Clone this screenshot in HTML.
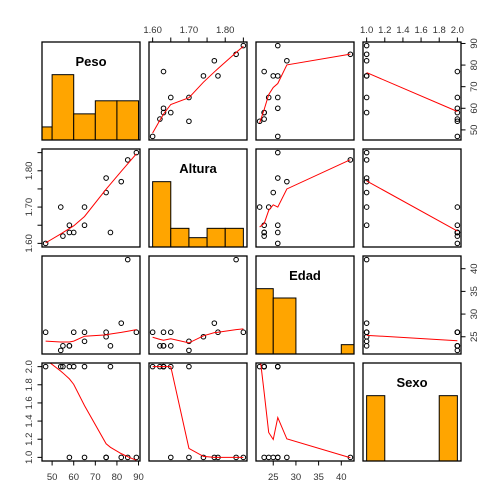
<!DOCTYPE html>
<html><head><meta charset="utf-8"><style>
html,body{margin:0;padding:0;background:#fff;}
svg{display:block;font-family:"Liberation Sans",sans-serif;}
</style></head><body>
<svg id="chart" width="504" height="504" viewBox="0 0 504 504"></svg>
<script>
const varNames = ["Peso","Altura","Edad","Sexo"];
const peso   = [47,54,55,58,58,60,65,65,75,75,77,82,85,89];
const altura = [1.60,1.70,1.62,1.65,1.63,1.63,1.70,1.65,1.78,1.74,1.63,1.77,1.83,1.85];
const edad   = [26,22,23,23,23,26,24,26,26,25,23,28,42,26];
const sexo   = [2,2,2,1,2,2,1,2,1,1,2,1,1,1];
const histBreaks = [[40,50,60,70,80,90],[1.60,1.65,1.70,1.75,1.80,1.85],[20,25,30,35,40,45],[1.0,1.2,1.4,1.6,1.8,2.0]];
const tickVals = [[50,60,70,80,90],[1.60,1.65,1.70,1.75,1.80,1.85],[25,30,35,40],[1.0,1.2,1.4,1.6,1.8,2.0]];
const tickLabels = [["50","60","70","80","90"],["1.60","","1.70","","1.80",""],["25","30","35","40"],["1.0","1.2","1.4","1.6","1.8","2.0"]];

const data=[peso,altura,edad,sexo];
const NS="http://www.w3.org/2000/svg";
const svg=document.getElementById('chart');
const P0=[42,149,256,363], PW=98;
function mk(t,a,p){const e=document.createElementNS(NS,t);for(const k in a)e.setAttribute(k,a[k]);(p||svg).appendChild(e);return e;}
function rng(v){const mn=Math.min(...v),mx=Math.max(...v),r=mx-mn;return [mn-0.04*r,mx+0.04*r];}
const ranges=data.map(rng);
function sx(j,v){const r=ranges[j];return P0[j]+(v-r[0])/(r[1]-r[0])*PW;}
function sy(i,v){const r=ranges[i];return P0[i]+PW-(v-r[0])/(r[1]-r[0])*PW;}

function lowess(xin,yin,f,iter){
  const idx=xin.map((_,i)=>i).sort((a,b)=>xin[a]-xin[b]);
  const x=idx.map(i=>xin[i]),y=idx.map(i=>yin[i]),n=x.length;
  const delta=0.01*(x[n-1]-x[0]);
  let ns=Math.max(Math.min(Math.round(f*n),n),2);
  const ys=new Array(n).fill(0),rw=new Array(n).fill(1),res=new Array(n).fill(0),w=new Array(n).fill(0);
  function lowest(xs,nleft,nright,userw){
    const range=x[n-1]-x[0];const h=Math.max(xs-x[nleft],x[nright]-xs);
    const h9=.999*h,h1=.001*h;let a=0,j=nleft;
    while(j<n){w[j]=0;const r=Math.abs(x[j]-xs);
      if(r<=h9){ if(r<=h1)w[j]=1;else w[j]=Math.pow(1-Math.pow(r/h,3),3);
        if(userw)w[j]*=rw[j];a+=w[j];}
      else if(x[j]>xs)break;j++;}
    const nrt=j-1;if(a<=0)return null;
    for(j=nleft;j<=nrt;j++)w[j]/=a;
    if(h>0){a=0;for(j=nleft;j<=nrt;j++)a+=w[j]*x[j];
      let b=xs-a,c=0;for(j=nleft;j<=nrt;j++)c+=w[j]*(x[j]-a)*(x[j]-a);
      if(Math.sqrt(c)>.001*range){b/=c;for(j=nleft;j<=nrt;j++)w[j]*=(b*(x[j]-a)+1);}}
    let s=0;for(j=nleft;j<=nrt;j++)s+=w[j]*y[j];return s;}
  for(let it=1;it<=iter+1;it++){
    let nleft=0,nright=ns-1,last=-1,i=0;
    while(true){
      while(nright<n-1){const d1=x[i]-x[nleft],d2=x[nright+1]-x[i];if(d1<=d2)break;nleft++;nright++;}
      const v=lowest(x[i],nleft,nright,it>1);
      ys[i]=(v===null)?y[i]:v;
      if(last<i-1){const den=x[i]-x[last];
        for(let j=last+1;j<i;j++){const al=(x[j]-x[last])/den;ys[j]=al*ys[i]+(1-al)*ys[last];}}
      last=i;const cut=x[last]+delta;
      for(i=last+1;i<n;i++){if(x[i]>cut)break;if(x[i]===x[last]){ys[i]=ys[last];last=i;}}
      i=Math.max(last+1,i-1);if(last>=n-1)break;}
    for(let k=0;k<n;k++)res[k]=y[k]-ys[k];
    if(it>iter)break;
    let sc=0;for(let k=0;k<n;k++)sc+=Math.abs(res[k]);sc/=n;
    const ar=res.map(Math.abs).sort((a,b)=>a-b);
    const m1=Math.floor(n/2);let cmad;
    if(n%2===0)cmad=3*(ar[m1]+ar[n-m1-1]);else cmad=6*ar[m1];
    if(cmad<1e-7*sc)break;
    const c9=.999*cmad,c1=.001*cmad;
    for(let k=0;k<n;k++){const r=Math.abs(res[k]);rw[k]=r<=c1?1:(r<=c9?Math.pow(1-Math.pow(r/cmad,2),2):0);}
  }
  return {x,y:ys};
}

const defs=mk('defs',{});
for(let i=0;i<4;i++)for(let j=0;j<4;j++){
  const cp=mk('clipPath',{id:'c'+i+'_'+j},defs);
  mk('rect',{x:P0[j],y:P0[i],width:PW,height:PW},cp);
}

for(let i=0;i<4;i++)for(let j=0;j<4;j++){
  const g=mk('g',{'clip-path':'url(#c'+i+'_'+j+')'});
  
  
  if(i===j){
    const br=histBreaks[i],v=data[i];
    const counts=br.slice(1).map((b,k)=>v.filter(d=>(k===0?d>=br[0]:d>br[k])&&d<=b).length);
    const mx=Math.max(...counts);
    counts.forEach((c,k)=>{
      const x1=sx(j,br[k]),x2=sx(j,br[k+1]);const h=c/mx/1.5*PW;
      const r=mk('rect',{x:x1,y:P0[i]+PW-h,width:x2-x1,height:h,fill:'#FFA500',stroke:'#000','stroke-width':1},g);
      
      
    });
    const t=mk('text',{x:P0[j]+PW/2,y:P0[i]+24,'text-anchor':'middle','font-size':'13','font-weight':'bold',fill:'#000'});
    t.textContent=varNames[i];
    
    
  } else {
    const xs=data[j],ys=data[i];
    xs.forEach((xv,k)=>{
      const c=mk('circle',{cx:sx(j,xv),cy:sy(i,ys[k]),r:2.3,fill:'none',stroke:'#000','stroke-width':1},g);
      
      
    });
    const lw=lowess(xs,ys,2/3,3);
    const pts=lw.x.map((xv,k)=>sx(j,xv).toFixed(2)+','+sy(i,lw.y[k]).toFixed(2)).join(' ');
    const pl=mk('polyline',{points:pts,fill:'none',stroke:'#FF0000','stroke-width':1},g);
    
    
  }
  const fr=mk('rect',{x:P0[j],y:P0[i],width:PW,height:PW,fill:'none',stroke:'#000','stroke-width':1.3});
  
  
}

// axes
function hAxis(j,top){
  const g=mk('g',{});
  
  
  const yb=top?P0[0]:P0[3]+PW, d=top?-1:1;
  const tv=tickVals[j];
  mk('line',{x1:sx(j,tv[0]),x2:sx(j,tv[tv.length-1]),y1:yb,y2:yb,stroke:'#000','stroke-width':1},g);
  tv.forEach((v,k)=>{const x=sx(j,v);
    mk('line',{x1:x,x2:x,y1:yb,y2:yb+d*4.5,stroke:'#000','stroke-width':1},g);
    if(tickLabels[j][k]){const t=mk('text',{x:x,y:top?yb-9:yb+19,'text-anchor':'middle','font-size':'9.5',fill:'#333'},g);t.textContent=tickLabels[j][k];}
  });
}
function vAxis(i,left){
  const g=mk('g',{});
  
  
  const xb=left?P0[0]:P0[3]+PW, d=left?-1:1;
  const tv=tickVals[i];
  mk('line',{x1:xb,x2:xb,y1:sy(i,tv[0]),y2:sy(i,tv[tv.length-1]),stroke:'#000','stroke-width':1},g);
  tv.forEach((v,k)=>{const y=sy(i,v);
    mk('line',{x1:xb,x2:xb+d*4.5,y1:y,y2:y,stroke:'#000','stroke-width':1},g);
    if(tickLabels[i][k]){const lx=left?xb-10:xb+16;
      const t=mk('text',{x:lx,y:y,'text-anchor':'middle','font-size':'9.5',fill:'#333',transform:'rotate(-90 '+lx+' '+y+')'},g);t.textContent=tickLabels[i][k];}
  });
}
hAxis(1,true);hAxis(3,true);hAxis(0,false);hAxis(2,false);
vAxis(0,false);vAxis(2,false);vAxis(1,true);vAxis(3,true);
</script>
</body></html>
